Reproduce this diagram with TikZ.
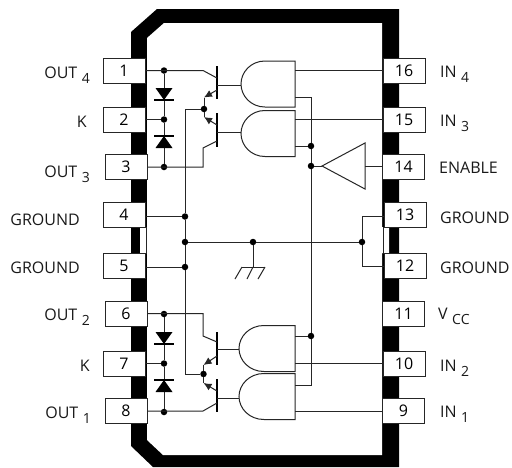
\documentclass[tikz,border=0pt]{standalone}
\usepackage{fontspec}
\setmainfont{Open Sans}
\usetikzlibrary{arrows.meta, positioning}
\newcommand{\pinsub}[1]{\kern4.5pt\raisebox{-5pt}{\fontsize{14}{16}\selectfont #1}}

\begin{document}
\begin{tikzpicture}[
        x=1pt, y=-1pt,
        wire/.style={line width=1pt, draw=black!85},
        emitarrow/.style={wire, -{Latex[length=8pt, width=7.5pt]}},
        bar/.style={line width=2pt},
        pinbox/.style={rectangle, draw=black!85, fill=white, line width=1pt, minimum width=42pt, minimum height=25pt, inner sep=0pt, font=\fontsize{16}{18}\selectfont},
        pinname/.style={inner sep=0pt, font=\fontsize{16}{18}\selectfont, text=black!90},
        leftname/.style={pinname, anchor=base east},
        rightname/.style={pinname, anchor=base west},
        junction/.style={circle, fill=black, inner sep=0pt, minimum size=6.5pt},
        gatebody/.pic={
            \draw[wire] (24,-23) -- (54,-23) -- (54,23) -- (24,23) .. controls (10,23) and (0,12) .. (0,0) .. controls (0,-12) and (10,-23) .. (24,-23);
        },
        diodebody/.pic={
            \fill (-8.5,-12) -- (8.5,-12) -- (0,0) -- cycle;
            \draw[line width=1.6pt] (-10,0) -- (10,0);
        }
    ]
        \useasboundingbox (0,0) rectangle (512,467);

        % Package outline
        \fill[black] (131,32) -- (157,9) -- (399,9) -- (399,467) -- (153,467) -- (131,446) -- cycle;
        \fill[white] (147,38) -- (164,23) -- (382,23) -- (382,227) -- (389,227) -- (389,253) -- (382,253) -- (382,455) -- (163,455) -- (147,440) -- (147,253) -- (140,253) -- (140,227) -- (147,227) -- cycle;
        \draw[wire] (146,227) -- (146,253);
        \draw[wire] (383,227) -- (383,253);

        % Left pins
        \node[pinbox] (pin1) at (124,70.5) {1};
        \node[pinbox] (pin2) at (124,119.5) {2};
        \node[pinbox] (pin3) at (126,167) {3};
        \node[pinbox] (pin4) at (124,214.5) {4};
        \node[pinbox] (pin5) at (124,266) {5};
        \node[pinbox] (pin6) at (126,313.5) {6};
        \node[pinbox] (pin7) at (124,363.5) {7};
        \node[pinbox] (pin8) at (126,411) {8};

        % Right pins
        \node[pinbox] (pin16) at (404,70.5) {16};
        \node[pinbox] (pin15) at (404,119.5) {15};
        \node[pinbox] (pin14) at (403.5,167) {14};
        \node[pinbox] (pin13) at (405,214.5) {13};
        \node[pinbox] (pin12) at (405,266) {12};
        \node[pinbox] (pin11) at (403.5,313.5) {11};
        \node[pinbox] (pin10) at (404,363.5) {10};
        \node[pinbox] (pin9) at (403.5,411) {9};

        % Pin names
        \node[leftname] (name1) at (90,78) {OUT\pinsub{4}};
        \node[leftname] (name2) at (87,127) {K};
        \node[leftname] (name3) at (90,177) {OUT\pinsub{3}};
        \node[leftname] (name4) at (80,225) {GROUND};
        \node[leftname] (name5) at (80,273) {GROUND};
        \node[leftname] (name6) at (90,320) {OUT\pinsub{2}};
        \node[leftname] (name7) at (90,371) {K};
        \node[leftname] (name8) at (91,418) {OUT\pinsub{1}};
        \node[rightname] (name16) at (440,77) {IN\pinsub{4}};
        \node[rightname] (name15) at (440,126) {IN\pinsub{3}};
        \node[rightname] (name14) at (439,173) {ENABLE};
        \node[rightname] (name13) at (440,223) {GROUND};
        \node[rightname] (name12) at (440,273) {GROUND};
        \node[rightname] (name11) at (438,319) {V\pinsub{CC}};
        \node[rightname] (name10) at (440,371) {IN\pinsub{2}};
        \node[rightname] (name9) at (440,417) {IN\pinsub{1}};

        % Junctions
        \node[junction] (d1) at (164,70.5) {};
        \node[junction] (d2) at (164,119.5) {};
        \node[junction] (d3) at (164,167) {};
        \node[junction] (d4) at (164,314) {};
        \node[junction] (d5) at (164,363.5) {};
        \node[junction] (d6) at (164,412) {};
        \node[junction] (e12) at (204,109) {};
        \node[junction] (e34) at (203.5,374) {};
        \node[junction] (g4) at (185,216.5) {};
        \node[junction] (g0) at (185,242) {};
        \node[junction] (g5) at (185,267) {};
        \node[junction] (gnd) at (253,242) {};
        \node[junction] (g13) at (362,242) {};
        \node[junction] (en2) at (311,146) {};
        \node[junction] (en) at (311,166) {};
        \node[junction] (en3) at (311,336) {};

        % Diodes
        \draw[wire] (d1) -- (d2);
        \draw[wire] (d2) -- (d3);
        \draw[wire] (d4) -- (d5);
        \draw[wire] (d5) -- (d6);
        \pic at (164,100) {diodebody};
        \pic[yscale=-1] at (164,136) {diodebody};
        \pic at (164,344) {diodebody};
        \pic[yscale=-1] at (164,380) {diodebody};
        \draw[wire] (pin2) -- (d2);
        \draw[wire] (pin7) -- (d5);

        % Gates
        \pic at (241,84) {gatebody};
        \pic at (241,133.5) {gatebody};
        \pic[xscale=1.04] at (239,348.5) {gatebody};
        \pic[xscale=1.04] at (239,396.5) {gatebody};

        % Transistor bars
        \draw[bar] (217,66) -- (217,99);
        \draw[bar] (217,113) -- (217,147);
        \draw[bar] (217,332) -- (217,365);
        \draw[bar] (217,379) -- (217,412);

        % Collectors
        \draw[wire] (pin1) -- (203,70.5) -- (217,78);
        \draw[wire] (pin3) -- (203,167) -- (203,148) -- (217,141);
        \draw[wire] (pin6) -- (203,313.5) -- (203,336) -- (217,342);
        \draw[wire] (pin8) -- (203,411) -- (217,403);

        % Emitters
        \draw[emitarrow] (217,90) -- (204,97.5);
        \draw[wire] (204,97.5) -- (e12);
        \draw[emitarrow] (217,125) -- (204,117);
        \draw[wire] (204,117) -- (e12);
        \draw[emitarrow] (217,356) -- (203.5,365);
        \draw[wire] (203.5,365) -- (e34);
        \draw[emitarrow] (217,391) -- (203.5,383);
        \draw[wire] (203.5,383) -- (e34);

        % Bases
        \draw[wire] (217,85) -- (241,85);
        \draw[wire] (217,132) -- (241,132);
        \draw[wire] (217,349) -- (239,349);
        \draw[wire] (217,398) -- (239,398);

        % Ground rail
        \draw[wire] (e12) -- (185,109) -- (g4);
        \draw[wire] (g4) -- (g0);
        \draw[wire] (g0) -- (g5);
        \draw[wire] (g5) -- (185,374) -- (e34);
        \draw[wire] (g4 -| pin4.east) -- (g4);
        \draw[wire] (g5 -| pin5.east) -- (g5);
        \draw[wire] (g0) -- (gnd);
        \draw[wire] (gnd) -- (g13);
        \draw[wire] (pin13.west |- 0,216.5) -- (362,216.5) -- (g13);
        \draw[wire] (pin12) -- (362,266) -- (g13);

        % Ground symbol
        \draw[wire] (gnd) -- (253,267);
        \draw[wire] (242,267) -- (265,267);
        \draw[wire] (242,267) -- (235,279);
        \draw[wire] (253,267) -- (247,279);
        \draw[wire] (265,267) -- (258,279);

        % Inputs
        \draw[wire] (pin16) -- (295,70.5);
        \draw[wire] (pin15) -- (295,119.5);
        \draw[wire] (pin10) -- (295,363.5);
        \draw[wire] (pin9) -- (295,411);

        % Enable
        \coordinate (bufout) at (322,166);
        \draw[wire, fill=white] (bufout) -- (365,143) -- (365,189) -- cycle;
        \draw[wire] (en) -- (bufout);
        \draw[wire] (365,166) -- (pin14.west |- bufout);
        \draw[wire] (295,97) -- (311,97) -- (en2);
        \draw[wire] (295,146) -- (en2);
        \draw[wire] (en2) -- (en);
        \draw[wire] (en) -- (en3);
        \draw[wire] (295,336) -- (en3);
        \draw[wire] (en3) -- (311,385) -- (295,385);
    \end{tikzpicture}
\end{document}
